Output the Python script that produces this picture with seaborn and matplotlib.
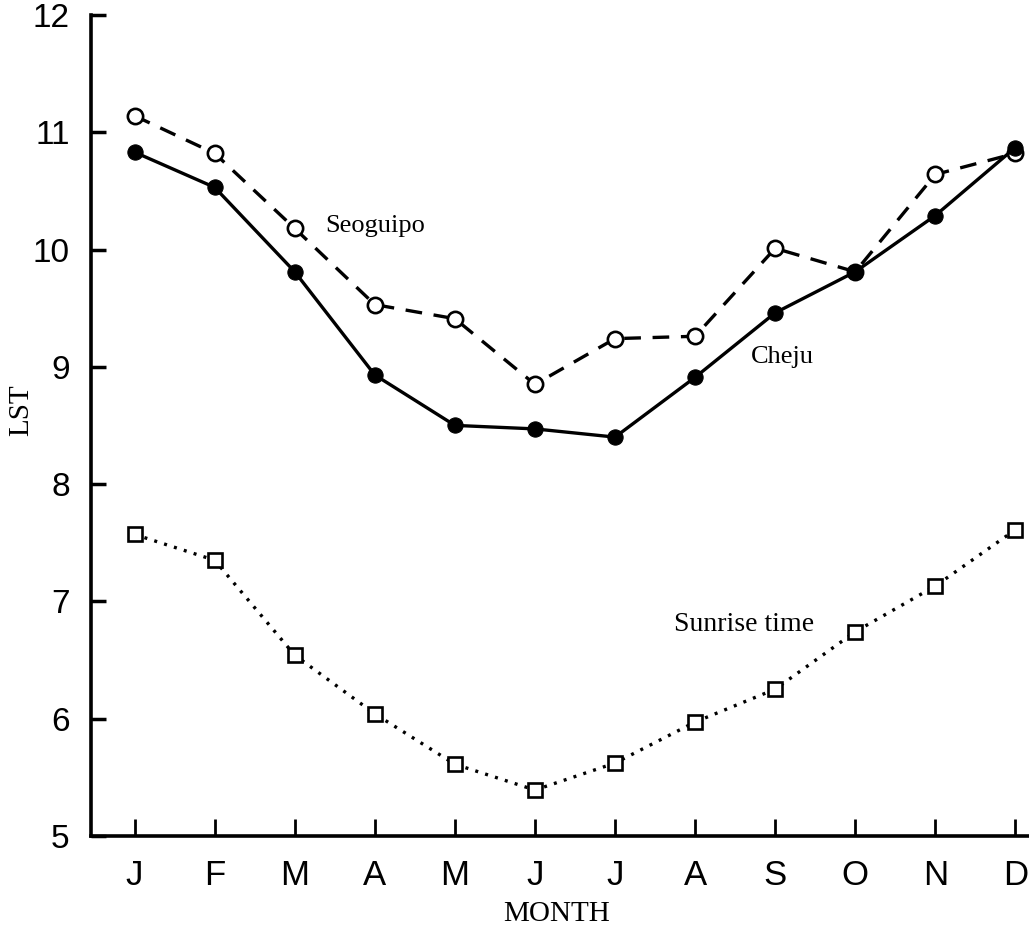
import numpy as np
import pandas as pd
import matplotlib
matplotlib.use("Agg")
import matplotlib.pyplot as plt
import seaborn as sns

months = ['J', 'F', 'M', 'A', 'M', 'J', 'J', 'A', 'S', 'O', 'N', 'D']
seoguipo = [11.14, 10.82, 10.18, 9.53, 9.41, 8.85, 9.24, 9.26, 10.01, 9.81, 10.64, 10.82]
cheju = [10.83, 10.53, 9.81, 8.93, 8.50, 8.47, 8.40, 8.91, 9.46, 9.81, 10.29, 10.87]
sunrise = [7.57, 7.35, 6.54, 6.04, 5.61, 5.39, 5.62, 5.97, 6.25, 6.74, 7.13, 7.61]

df = pd.DataFrame({'idx': np.arange(len(months)), 'Seoguipo': seoguipo,
                   'Cheju': cheju, 'Sunrise': sunrise})

sns.set_style('ticks')
plt.rcParams['font.family'] = ['Liberation Sans', 'DejaVu Sans']
for k in ['text.color', 'axes.labelcolor', 'xtick.color', 'ytick.color', 'axes.edgecolor']:
    plt.rcParams[k] = 'black'
serif = ['Liberation Serif', 'DejaVu Serif']

fig = plt.figure(figsize=(10.29, 9.38), dpi=100)
ax = fig.add_axes([0.088, 0.109, 0.912, 0.875])

# Seoguipo: dashed with open circles
sns.lineplot(data=df, x='idx', y='Seoguipo', ax=ax, color='black', lw=2.4,
             linestyle=(0, (5, 3.5)), marker='o', markersize=11,
             markerfacecolor='white', markeredgecolor='black', markeredgewidth=1.9)
# Cheju: solid with filled circles
sns.lineplot(data=df, x='idx', y='Cheju', ax=ax, color='black', lw=2.4,
             marker='o', markersize=11, markerfacecolor='black',
             markeredgecolor='black')
# Sunrise time: dotted with open squares
sns.lineplot(data=df, x='idx', y='Sunrise', ax=ax, color='black', lw=2.4,
             linestyle=(0, (0.9, 2.2)), marker='s', markersize=9.5,
             markerfacecolor='white', markeredgecolor='black', markeredgewidth=1.9)

ax.set_xlim(-0.55, 11.17)
ax.set_ylim(5, 12)
ax.set_xticks(df['idx'])
ax.set_xticklabels(months, fontsize=25)
ax.set_yticks(range(5, 13))
ax.set_yticklabels([str(v) for v in range(5, 13)], fontsize=24)
ax.tick_params(axis='x', direction='in', length=12, width=2, pad=17)
ax.tick_params(axis='y', direction='in', length=11, width=2.5, pad=15)

for s in ['top', 'right']:
    ax.spines[s].set_visible(False)
for s in ['left', 'bottom']:
    ax.spines[s].set_linewidth(2.6)

ax.set_xlabel('MONTH', fontsize=21, family=serif)
ax.set_ylabel('LST', fontsize=21, family=serif)
ax.xaxis.set_label_coords(0.497, -0.080)
ax.yaxis.set_label_coords(-0.060, 0.518)

ax.text(2.38, 10.20, 'Seoguipo', fontsize=19, family=serif, va='center', ha='left')
ax.text(7.70, 9.08, 'Cheju', fontsize=19, family=serif, va='center', ha='left')
ax.text(6.74, 6.80, 'Sunrise time', fontsize=20, family=serif, va='center', ha='left')

fig.savefig('out.png', dpi=100)
